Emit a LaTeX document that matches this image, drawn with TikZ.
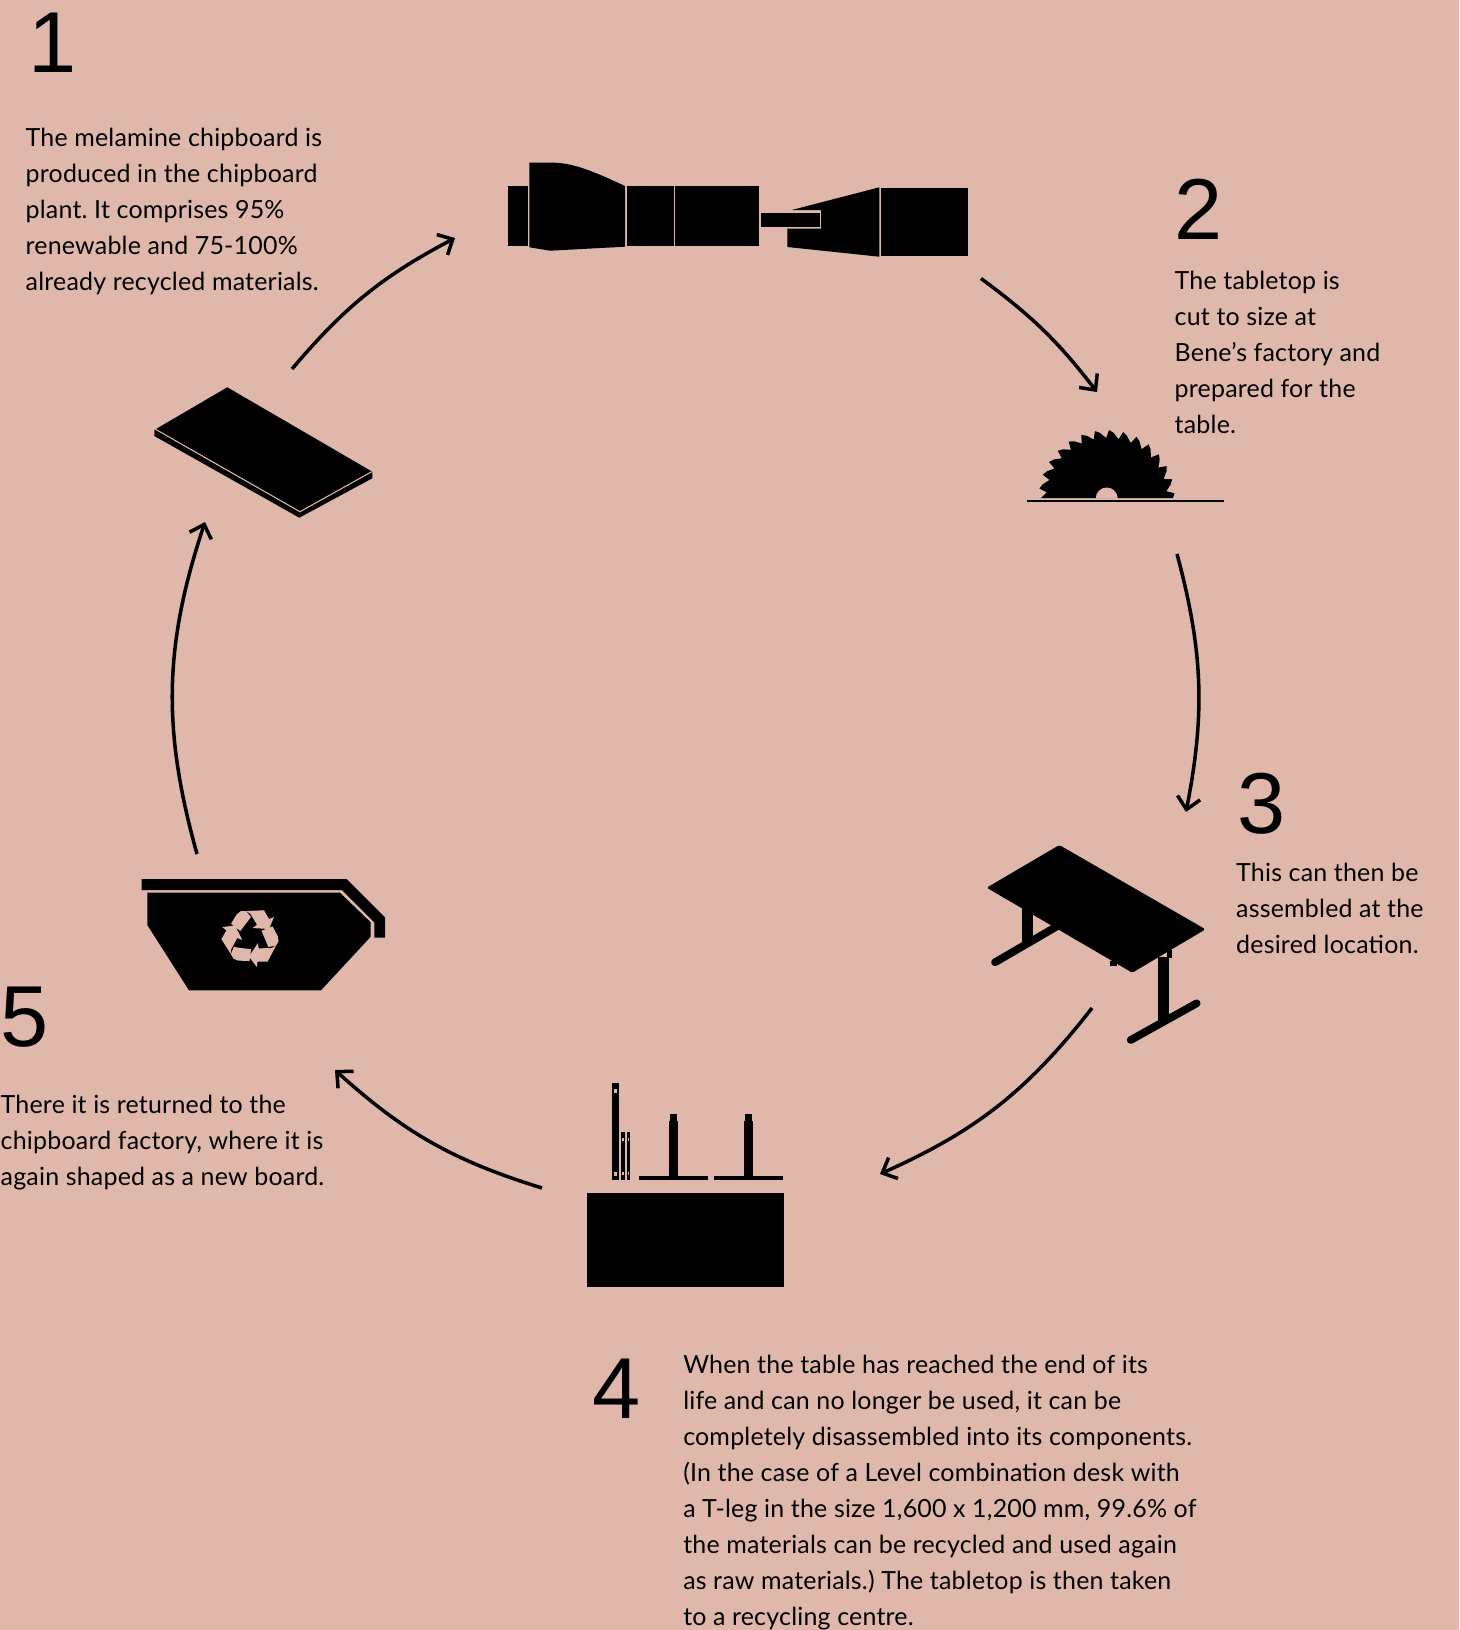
\documentclass[tikz,border=0pt]{standalone}
\usepackage{fontspec}
\setmainfont{Lato}[LetterSpace=0.8]
\newfontfamily\numfont{Liberation Sans}
\usetikzlibrary{arrows.meta, positioning}
\definecolor{rosebg}{HTML}{DFB8AB}

\begin{document}
\begin{tikzpicture}[
  x=0.01cm, y=-0.01cm,
  num/.style={font=\numfont\fontsize{24.6pt}{25pt}\selectfont, inner sep=0pt, anchor=north west},
  lbl/.style={font=\fontsize{7.1pt}{10.24pt}\selectfont\frenchspacing, inner sep=0pt, align=left, anchor=north west},
  trans/.style={-{Straight Barb[length=1.2mm, width=2.3mm]}, line width=1pt},
  icon/.style={fill=black, draw=none},
  gap/.style={fill=rosebg, draw=none}
]
  \fill[rosebg] (0,0) rectangle (1459,1630);
  \useasboundingbox (0,0) rectangle (1459,1630);

  \node[num] (one) at (28,12) {1};
  \node[lbl, below=0.545cm of one.south west, anchor=north west, xshift=-0.03cm] (onetext) {The melamine chipboard is\\produced in the chipboard\\plant. It comprises 95\%\\renewable and 75-100\%\\already recycled materials.};
  \node[num] (two) at (1174,178.5) {2};
  \node[lbl, below=0.305cm of two.south west, anchor=north west] (twotext) {The tabletop is\\cut to size at\\Bene’s factory and\\prepared for the\\table.};
  \node[num] (three) at (1236.5,772) {3};
  \node[lbl, below=0.28cm of three.south west, anchor=north west, xshift=-0.01cm] (threetext) {This can then be\\assembled at the\\desired location.};
  \node[num] (four) at (592,1358) {4};
  \node[lbl, right=0.41cm of four.north east, anchor=north west, yshift=0.04cm] (fourtext) {When the table has reached the end of its\\life and can no longer be used, it can be\\completely disassembled into its components.\\(In the case of a Level combination desk with\\a T-leg in the size 1,600 x 1,200 mm, 99.6\% of\\the materials can be recycled and used again\\as raw materials.) The tabletop is then taken\\to a recycling centre.};
  \node[num] (five) at (0,986) {5};
  \node[lbl, below=0.47cm of five.south west, anchor=north west] (fivetext) {There it is returned to the\\chipboard factory, where it is\\again shaped as a new board.};

  % plant
  \fill[icon] (508.3,186) rectangle (527.7,246);
  \fill[icon] (529.3,162.7) -- (555,162.7) .. controls (575,163.5) and (595,172) .. (625,186) -- (625,246.7) -- (550,250.7) -- (529.3,247.3) -- cycle;
  \fill[icon] (627,186) rectangle (673.7,246);
  \fill[icon] (675,186) rectangle (758.7,246);
  \fill[icon] (760.7,212.7) rectangle (820,227);
  \fill[icon] (791.7,210) -- (879.3,187.3) -- (879.3,256.7) -- (787.3,247) -- (787.3,228.7) -- (821,228.7) -- (821,210) -- cycle;
  \fill[icon] (880.7,187.7) rectangle (967.7,256);

  % saw
  \fill[icon] (1173,498) \foreach \a in {4,16,...,172} {
      -- ({1106.7+68*cos(\a)},{498-68*sin(\a)})
      -- ({1106.7+60*cos(\a+2.5)},{498-60*sin(\a+2.5)})
      -- ({1106.7+65.5*cos(\a+8)},{498-65.5*sin(\a+8)})
    } -- (1039,498) -- cycle;
  \fill[gap] (1095.7,498.5) arc[start angle=180, end angle=360, radius=11];
  \draw[line width=0.6pt] (1027,500.7) -- (1224,500.7);

  % table
  \fill[icon, rounded corners=0.5pt] (1059.3,845) -- (1205.5,929.3) -- (1132.3,972.7) -- (986.7,887.7) -- cycle;
  \fill[icon] (1022.3,908.3) rectangle (1033.3,943.3);
  \draw[line width=2.2pt, line cap=round] (995,962.3) -- (1058,925.7);
  \fill[icon] (1158.3,956.7) rectangle (1169.3,1021.7);
  \fill[icon] (1166.7,950) rectangle (1172,958);
  \fill[icon] (1110,960.7) rectangle (1116.7,966);
  \draw[line width=2.2pt, line cap=round] (1130.7,1040) -- (1196.7,1003.3);

  % parts
  \fill[icon] (586.7,1192.7) rectangle (783.7,1286.5);
  \fill[icon] (611.7,1082.7) rectangle (618.7,1180.3);
  \fill[gap] (613.5,1088.5) rectangle (617,1092.5);
  \fill[gap] (613.5,1171.5) rectangle (617,1175.5);
  \foreach \x in {621,626.5} {
    \fill[icon] (\x,1132) rectangle (\x+3.8,1180.3);
    \fill[gap] (\x+1,1138) rectangle (\x+2.8,1141);
    \fill[gap] (\x+1,1171.5) rectangle (\x+2.8,1174.5);
  }
  \foreach \x in {638.7,713.7} {
    \fill[icon] (\x,1176) rectangle (\x+69.3,1180);
    \fill[icon] (\x+30,1121) rectangle (\x+39,1176);
    \fill[icon] (\x+31.3,1114) rectangle (\x+38,1121);
  }

  % skip
  \fill[icon] (141.7,879) -- (346.7,879) -- (385,917.3) -- (385,937.7) -- (374.3,937.7) -- (374.3,922.3) -- (342,890) -- (141.7,890) -- cycle;
  \fill[icon] (147.3,892.7) -- (340,892.7) -- (370.7,922.3) -- (370.7,936.7) -- (321,990.3) -- (189,990.3) -- (147.3,925) -- cycle;
  \foreach \a in {0,120,240} {
    \begin{scope}[shift={(251,937)}, rotate=\a]
      \fill[gap] (-5,-26) -- (13,-26.7) -- (18,-18) -- (23,-20) -- (18,-8) -- (1.7,-9) -- (6,-12.3) -- (-0.7,-23.3) -- cycle;
      \fill[gap] (-10,-26) -- (-5,-26) -- (0,-20) -- (-10.7,-6) -- (-20,-13.3) -- (-14,-23) -- cycle;
    \end{scope}
  }

  % board
  \fill[icon] (227.3,387.3) -- (372.3,471.7) -- (372.3,478.3) -- (299.3,517.7) -- (154.3,436) -- (154.3,430) -- cycle;
  \draw[rosebg, line width=0.3pt] (155,429) -- (300,511.7) -- (371.7,471.7);

  \coordinate (boardout) at (292,369);
  \coordinate (plantin) at (455,238);
  \coordinate (plantout) at (981,278.5);
  \coordinate (sawin) at (1097,392);
  \coordinate (sawout) at (1177,554);
  \coordinate (tablein) at (1186,812);
  \coordinate (tableout) at (1092,1008);
  \coordinate (partsin) at (880,1174);
  \coordinate (partsout) at (542,1188);
  \coordinate (skipin) at (335,1070);
  \coordinate (skipout) at (197,854);
  \coordinate (boardin) at (205,522);

  \draw[trans] (boardout) to[bend left=11] (plantin);
  \draw[trans] (plantout) to[bend left=8] (sawin);
  \draw[trans] (sawout) to[bend left=13] (tablein);
  \draw[trans] (tableout) to[bend left=14] (partsin);
  \draw[trans] (partsout) to[bend left=12.5] (skipin);
  \draw[trans] (skipout) to[bend left=17] (boardin);
\end{tikzpicture}
\end{document}
